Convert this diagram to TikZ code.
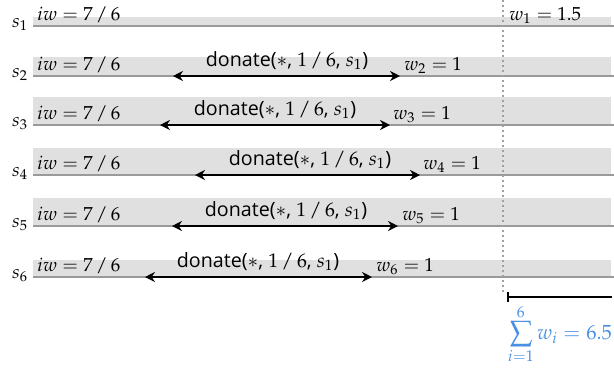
\documentclass[tikz,border=0pt]{standalone}
\usepackage{mathpazo}
\usepackage[no-math]{fontspec}
\setsansfont{Open Sans}
\usetikzlibrary{arrows.meta}
\definecolor{bandgray}{HTML}{E0E0E0}
\definecolor{linegray}{HTML}{9A9A9A}
\definecolor{dotgray}{HTML}{A0A0A0}
\definecolor{sumblue}{HTML}{4A90E2}
\begin{document}
\begin{tikzpicture}[x=0.6pt,y=-0.6pt,
  font=\fontsize{11.3}{13}\selectfont,
  band/.style={fill=bandgray, draw=none},
  rowline/.style={draw=linegray, line width=0.9pt},
  lbl/.style={inner sep=0pt, anchor=base west},
  slbl/.style={inner sep=0pt, anchor=base},
  dlbl/.style={inner sep=0pt, anchor=base, font=\fontsize{11.8}{13}\sffamily},
  donarrow/.style={{Stealth[length=6pt,width=6pt,inset=2pt]}-{Stealth[length=6pt,width=6pt,inset=2pt]}, line width=1pt},
]
\useasboundingbox (0,0) rectangle (614,369);
% row 1
\fill[band] (33,17) rectangle (611,26);
\draw[rowline] (33,26) -- (614,26);
\node[slbl] (s1) at (20,27) {$s_1$};
\node[lbl] (iw1) at (37,20) {$iw = 7\,/\,6$};
\node[lbl] (w1) at (509,20) {$w_1 = 1.5$};
% rows 2..6
\foreach \i/\ly/\bt/\al/\ar/\tx/\wx in {2/76/57/173/400/287/404, 3/125/97/160/390/275/393, 4/175/148/195/420/310/423, 5/226/198/172/398/286/402, 6/277/260/145/372/258/376}{
  \fill[band] (33,\bt) rectangle (611,\ly);
  \draw[rowline] (33,\ly) -- (614,\ly);
  \node[slbl] (s\i) at (20,\ly+1) {$s_{\i}$};
  \node[lbl] (iw\i) at (37,\ly-6) {$iw = 7\,/\,6$};
  \coordinate (aL\i) at (\al,\ly);
  \coordinate (aR\i) at (\ar,\ly);
  \draw[donarrow] (aL\i) -- (aR\i);
  \node[dlbl] (d\i) at (\tx,\ly-10) {donate($*$, $1\,/\,6$, $s_1$)};
  \node[lbl] (w\i) at (\wx,\ly-6) {$w_{\i} = 1$};
}
\coordinate (dt) at (503,0);
\coordinate (db) at (503,292);
\draw[dotgray, dotted, line width=1pt] (dt) -- (db);
\coordinate (bl) at (507,297);
\coordinate (br) at (612,297);
\draw[{Bar[width=6pt]}-, line width=1.2pt] (bl) -- (br);
\node[text=sumblue, inner sep=0pt, font=\fontsize{12.3}{14}\selectfont] (sum) at (560,334) {$\displaystyle\sum_{i=1}^{6} w_i = 6.5$};
\end{tikzpicture}
\end{document}
